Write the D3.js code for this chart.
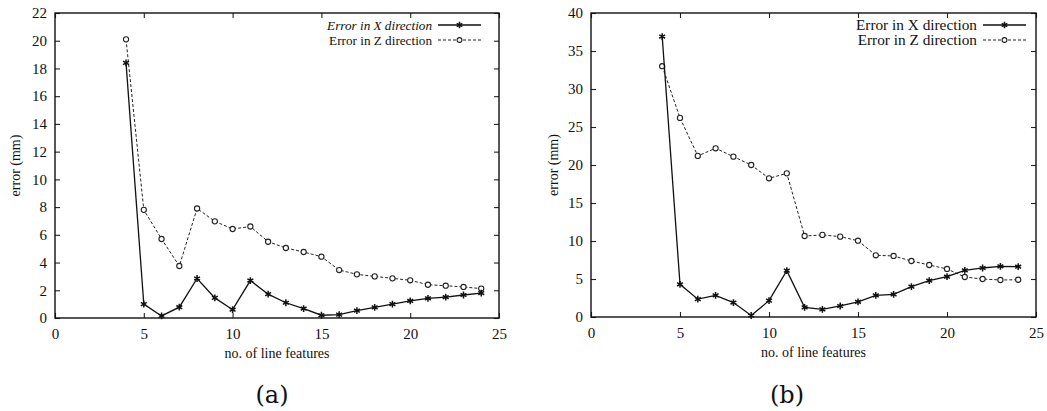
<!DOCTYPE html>
<html>
<head>
<meta charset="utf-8">
<script src="https://cdn.jsdelivr.net/npm/d3@7"></script>
<style>
  html, body { margin: 0; padding: 0; background: #fff; }
  svg text { font-family: "Liberation Serif", Tinos, "Times New Roman", Times, "Nimbus Roman", "DejaVu Serif", serif; fill: #111; }
</style>
</head>
<body>
<svg id="fig" width="1047" height="411"></svg>
<script>
// Number of line features used (shared x values)
const features = [4, 5, 6, 7, 8, 9, 10, 11, 12, 13, 14, 15, 16, 17, 18, 19, 20, 21, 22, 23, 24];

// Panel (a)
const errXa = [18.4, 1.0, 0.15, 0.78, 2.85, 1.45, 0.6, 2.7, 1.72, 1.1, 0.68, 0.2, 0.24, 0.53, 0.77, 1.0, 1.23, 1.42, 1.5, 1.66, 1.8];
const errZa = [20.1, 7.8, 5.7, 3.75, 7.9, 6.97, 6.42, 6.6, 5.5, 5.05, 4.76, 4.42, 3.46, 3.15, 3.0, 2.86, 2.72, 2.4, 2.33, 2.24, 2.12];

// Panel (b)
const errXb = [36.9, 4.3, 2.35, 2.85, 1.9, 0.2, 2.15, 6.1, 1.27, 1.0, 1.45, 2.0, 2.85, 2.98, 4.0, 4.78, 5.3, 6.14, 6.45, 6.67, 6.62];
const errZb = [33.0, 26.2, 21.2, 22.2, 21.1, 20.0, 18.25, 18.9, 10.66, 10.8, 10.57, 10.04, 8.12, 8.03, 7.37, 6.84, 6.32, 5.26, 5.0, 4.87, 4.9];

// Tick values
const xTicks = [0, 5, 10, 15, 20, 25];
const yTicksA = [0, 2, 4, 6, 8, 10, 12, 14, 16, 18, 20, 22];
const yTicksB = [0, 5, 10, 15, 20, 25, 30, 35, 40];

// Legend labels and panel captions
const seriesNames = ["Error in X direction", "Error in Z direction"];
const captions = ["(a)", "(b)"];
const xTitle = "no. of line features";
const yTitle = "error (mm)";

const SERIF = '"Liberation Serif", Tinos, "Times New Roman", Times, "Nimbus Roman", "DejaVu Serif", serif';

const svg = d3.select("#fig");

function starPath(cx, cy, r) {
  // six-armed asterisk marker
  let d = "";
  for (let k = 0; k < 3; k++) {
    const a = Math.PI / 2 + k * Math.PI / 3;
    const dx = r * Math.cos(a), dy = r * Math.sin(a);
    d += `M${cx - dx},${cy - dy}L${cx + dx},${cy + dy}`;
  }
  return d;
}

function panel(opts) {
  const { left, right, top, bottom, yMax, yTicks, xs, sx, sz, caption, captionX, legendEnd, italicX, legendSize, yTitleX } = opts;
  const g = svg.append("g");
  const x = d3.scaleLinear().domain([0, 25]).range([left, right]);
  const y = d3.scaleLinear().domain([0, yMax]).range([bottom, top]);
  const tl = 5;

  // inward ticks on all four sides
  const axB = d3.axisBottom(x).tickValues(xTicks).tickSizeInner(-tl).tickSizeOuter(0).tickPadding(10);
  const axT = d3.axisTop(x).tickValues(xTicks).tickSizeInner(-tl).tickSizeOuter(0).tickFormat("");
  const axL = d3.axisLeft(y).tickValues(yTicks).tickSizeInner(-tl).tickSizeOuter(0).tickPadding(8);
  const axR = d3.axisRight(y).tickValues(yTicks).tickSizeInner(-tl).tickSizeOuter(0).tickFormat("");

  const styleAxis = sel => {
    sel.attr("font-family", null).attr("font-size", null);
    sel.select(".domain").remove();
    sel.selectAll("line").attr("stroke", "#222").attr("stroke-width", 1.1);
    sel.selectAll("text").style("font-family", SERIF).style("font-size", "15px").attr("fill", "#111");
  };
  g.append("g").attr("transform", `translate(0,${bottom})`).call(axB).call(styleAxis);
  g.append("g").attr("transform", `translate(0,${top})`).call(axT).call(styleAxis);
  g.append("g").attr("transform", `translate(${left},0)`).call(axL).call(styleAxis);
  g.append("g").attr("transform", `translate(${right},0)`).call(axR).call(styleAxis);

  // frame
  g.append("rect").attr("x", left).attr("y", top).attr("width", right - left).attr("height", bottom - top)
    .attr("fill", "none").attr("stroke", "#111").attr("stroke-width", 1.4);

  const line = d3.line().x(d => x(d[0])).y(d => y(d[1]));
  const ptsX = xs.map((v, i) => [v, sx[i]]);
  const ptsZ = xs.map((v, i) => [v, sz[i]]);

  // Z series: dashed with open circles
  g.append("path").attr("d", line(ptsZ)).attr("fill", "none").attr("stroke", "#222")
    .attr("stroke-width", 1).attr("stroke-dasharray", "3,2");
  g.selectAll("circle.z").data(ptsZ).join("circle").attr("class", "z")
    .attr("cx", d => x(d[0])).attr("cy", d => y(d[1])).attr("r", 2.6)
    .attr("fill", "#fff").attr("stroke", "#222").attr("stroke-width", 1.1);

  // X series: solid with asterisks
  g.append("path").attr("d", line(ptsX)).attr("fill", "none").attr("stroke", "#111").attr("stroke-width", 1.3);
  g.selectAll("path.xm").data(ptsX).join("path").attr("class", "xm")
    .attr("d", d => starPath(x(d[0]), y(d[1]), 3.4))
    .attr("stroke", "#111").attr("stroke-width", 1.5);

  // legend
  const lx0 = legendEnd + 6, lx1 = legendEnd + 49, lm = (lx0 + lx1) / 2;
  const rows = [top + 12, top + 27];
  g.append("text").attr("x", legendEnd).attr("y", rows[0]).attr("dy", "0.35em").attr("text-anchor", "end")
    .style("font-family", SERIF).style("font-size", legendSize + "px").style("font-style", italicX ? "italic" : "normal").text(seriesNames[0]);
  g.append("text").attr("x", legendEnd).attr("y", rows[1]).attr("dy", "0.35em").attr("text-anchor", "end")
    .style("font-family", SERIF).style("font-size", legendSize + "px").text(seriesNames[1]);
  g.append("line").attr("x1", lx0).attr("x2", lx1).attr("y1", rows[0]).attr("y2", rows[0])
    .attr("stroke", "#111").attr("stroke-width", 1.3);
  g.append("path").attr("d", starPath(lm, rows[0], 3.2)).attr("stroke", "#111").attr("stroke-width", 1.5);
  g.append("line").attr("x1", lx0).attr("x2", lx1).attr("y1", rows[1]).attr("y2", rows[1])
    .attr("stroke", "#222").attr("stroke-width", 1).attr("stroke-dasharray", "3,2");
  g.append("circle").attr("cx", lm).attr("cy", rows[1]).attr("r", 2.4)
    .attr("fill", "#fff").attr("stroke", "#222").attr("stroke-width", 1.1);

  // axis titles
  g.append("text").attr("x", (left + right) / 2).attr("y", bottom + 40).attr("text-anchor", "middle")
    .style("font-family", SERIF).style("font-size", "14px").text(xTitle);
  g.append("text").attr("transform", `translate(${yTitleX},${(top + bottom) / 2}) rotate(-90)`)
    .attr("text-anchor", "middle").attr("dy", "0.35em")
    .style("font-family", SERIF).style("font-size", "14px").text(yTitle);

  // caption
  g.append("text").attr("x", captionX).attr("y", 403).attr("text-anchor", "middle")
    .style("font-family", '"DejaVu Serif", serif').style("font-size", "24px").text(caption);
}

panel({ left: 55, right: 499, top: 13, bottom: 318, yMax: 22, yTicks: yTicksA,
        xs: features, sx: errXa, sz: errZa, caption: captions[0], captionX: 272,
        legendEnd: 432, italicX: true, legendSize: 13.2, yTitleX: 15 });
panel({ left: 591, right: 1036, top: 13, bottom: 317, yMax: 40, yTicks: yTicksB,
        xs: features, sx: errXb, sz: errZb, caption: captions[1], captionX: 787,
        legendEnd: 977, italicX: false, legendSize: 15.3, yTitleX: 553 });
</script>
</body>
</html>
